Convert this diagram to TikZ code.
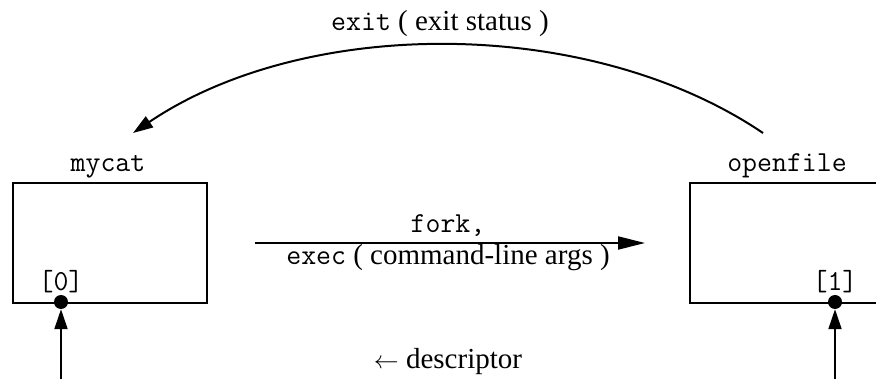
\documentclass[tikz,border=0pt]{standalone}
\usepackage{fontspec}
\setmainfont{Liberation Serif}
\usetikzlibrary{arrows.meta}
\newcommand\codefont[1]{{\fontsize{29}{33}\selectfont\ttfamily #1}}
\begin{document}
\begin{tikzpicture}[x=1pt,y=-1pt,
  proc/.style={draw, line width=2pt, minimum width=194pt, minimum height=120pt, inner sep=0pt, anchor=north west},
  serif/.style={font=\fontsize{29}{34}\selectfont, inner sep=0pt},
  mono/.style={font=\fontsize{29}{33}\selectfont\ttfamily, inner sep=0pt},
  dot/.style={circle, fill, inner sep=0pt, minimum size=14pt},
  conn/.style={line width=2pt},
  tip/.style={-{Triangle[length=20pt,width=13pt]}}
]
\useasboundingbox (0,0) rectangle (876,379);

% process boxes
\node[proc] (mycat) at (12,182) {};
\node[proc, minimum width=200pt] (openfile) at (689,182) {};
\node[mono, anchor=base] (mycatlbl) at (108,172) {mycat};
\node[mono, anchor=base] (openlbl) at (787,172) {openfile};

% descriptors
\node[mono, anchor=base] (fd0) at (61,291) {[0]};
\node[mono, anchor=base] (fd1) at (835,291) {[1]};
\node[dot] (dot0) at (61,302) {};
\node[dot] (dot1) at (835,302) {};
\coordinate (in0) at (61,381);
\coordinate (in1) at (835,381);
\draw[conn, tip] (in0) -- (dot0.south);
\draw[conn, tip] (in1) -- (dot1.south);

% fork / exec
\draw[conn, -{Triangle[length=27pt,width=13pt]}] ([xshift=47pt]mycat.east) -- ([xshift=-44pt]openfile.west);
\node[mono, anchor=base] (forklbl) at (448,233) {fork,};
\node[serif, anchor=base] (execlbl) at (448,265) {\codefont{exec} ( command-line args )};

% exit
\coordinate (cs) at (763,133);
\coordinate (ce) at (133,133);
\draw[conn, tip] (cs) .. controls (590,16) and (306,16) .. (ce);
\node[serif, anchor=base] (exitlbl) at (440,31) {\codefont{exit} ( exit status )};

% legend
\node[serif, anchor=base] (desc) at (448,369) {$\leftarrow$ descriptor};
\end{tikzpicture}
\end{document}
